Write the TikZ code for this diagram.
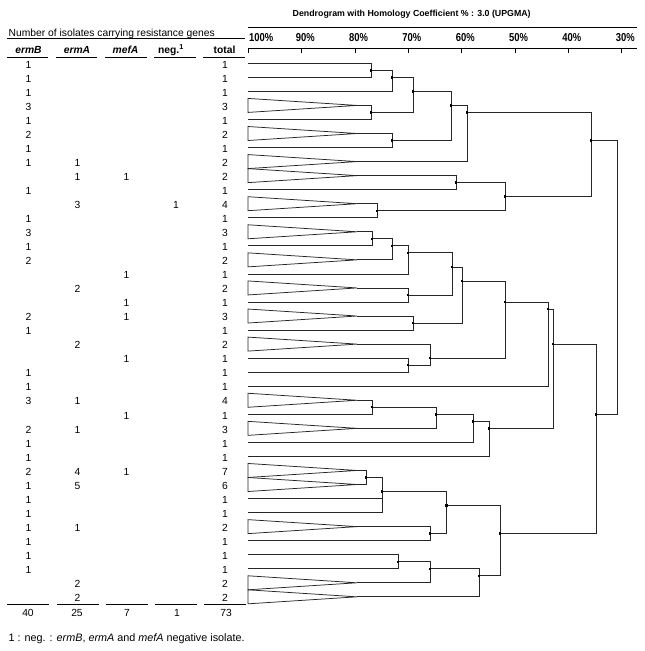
\documentclass[tikz,border=0pt]{standalone}
\usepackage{fontspec}
\setmainfont{Liberation Sans}
\newcommand\rowY[1]{63.3+(#1-1)*14.04}
\begin{document}
\begin{tikzpicture}[x=1pt,y=-1pt,
  br/.style={draw=black!85, line width=0.75pt},
  rulel/.style={draw=black, line width=0.8pt},
  num/.style={font=\fontsize{10.3}{12}\selectfont, anchor=base, inner sep=0pt},
  hdr/.style={font=\fontsize{10.3}{12}\selectfont\bfseries, anchor=base, inner sep=0pt},
  scl/.style={font=\fontsize{11.5}{13}\selectfont\bfseries, anchor=base, inner sep=0pt, xscale=0.82},
]
\useasboundingbox (0,0) rectangle (645,651);

% ---------------- table ----------------
\node[num, anchor=base west] (title) at (8.5,36.7) {Number of isolates carrying resistance genes};
\draw[rulel] (7,38.8) -- (245,38.8);
\node[hdr] (hB) at (28.5,53.3) {\itshape ermB};
\node[hdr] (hA) at (77,53.3) {\itshape ermA};
\node[hdr] (hM) at (125.5,53.3) {\itshape mefA};
\node[hdr] (hN) at (171,53.3) {neg.\textsuperscript{1}};
\node[hdr] (hT) at (224.5,53.3) {total};
\foreach \a/\b in {7/48,56/97,105/147,154/196,203/245}
  \draw[rulel] (\a,57) -- (\b,57);

\foreach \r/\v in {1/1,2/1,3/1,4/3,5/1,6/2,7/1,8/1,10/1,12/1,13/3,14/1,15/2,19/2,20/1,23/1,24/1,25/3,27/2,28/1,29/1,30/2,31/1,32/1,33/1,34/1,35/1,36/1,37/1}
  \node[num] (b\r) at (28.5,{\rowY{\r}+4.7}) {\v};
\foreach \r/\v in {8/1,9/1,11/3,17/2,21/2,25/1,27/1,30/4,31/5,34/1,38/2,39/2}
  \node[num] (a\r) at (77.5,{\rowY{\r}+4.7}) {\v};
\foreach \r/\v in {9/1,16/1,18/1,19/1,22/1,26/1,30/1}
  \node[num] (m\r) at (126.5,{\rowY{\r}+4.7}) {\v};
\node[num] (n11) at (176,{\rowY{11}+4.7}) {1};
\foreach \r/\v in {1/1,2/1,3/1,4/3,5/1,6/2,7/1,8/2,9/2,10/1,11/4,12/1,13/3,14/1,15/2,16/1,17/2,18/1,19/3,20/1,21/2,22/1,23/1,24/1,25/4,26/1,27/3,28/1,29/1,30/7,31/6,32/1,33/1,34/2,35/1,36/1,37/1,38/2,39/2}
  \node[num] (t\r) at (225,{\rowY{\r}+4.7}) {\v};

\foreach \a/\b in {7/49,57/99,106/148,155/197,204/246}
  \draw[rulel] (\a,604) -- (\b,604);
\node[num] (sB) at (28,616.7) {40};
\node[num] (sA) at (77,616.7) {25};
\node[num] (sM) at (127,616.7) {7};
\node[num] (sN) at (177,616.7) {1};
\node[num] (sT) at (226,616.7) {73};

\node[num, font=\fontsize{10.8}{12}\selectfont, anchor=base west] (foot) at (8.5,641) {1 : neg. : \textit{ermB}, \textit{ermA} and \textit{mefA} negative isolate.};

% ---------------- dendrogram header ----------------
\node[font=\fontsize{8.8}{10}\selectfont\bfseries, anchor=base, inner sep=0pt] (dtitle) at (411.7,16.7) {Dendrogram with Homology Coefficient \% : 3.0 (UPGMA)};
\draw[rulel] (248,27.3) -- (637,27.3);
\draw[rulel] (248,48.3) -- (637,48.3);
\foreach \k in {0,...,7}
  \draw[rulel] ({248.3+\k*53.33},48.3) -- ++(0,4.4);
\node[scl, anchor=base west] (p100) at (249,41.7) {100\%};
\foreach \k/\p in {1/90,2/80,3/70,4/60,5/50,6/40,7/30}
  \node[scl] (p\p) at ({248.3+\k*53.33+3.6},41.7) {\p\%};

% ---------------- leaves ----------------
\foreach \i in {4,6,8,9,11,13,15,17,19,21,25,27,30,31,34,38,39} {
  \draw[br] (248,{\rowY{\i}-7}) -- (357,{\rowY{\i}}) -- (248,{\rowY{\i}+7}) -- cycle;
  \coordinate (l\i) at (357,{\rowY{\i}});
}
\foreach \i in {1,2,3,5,7,10,12,14,16,18,20,22,23,24,26,28,29,32,33,35,36,37}
  \coordinate (l\i) at (248,{\rowY{\i}});

% ---------------- internal nodes ----------------
\foreach \n/\x/\m in {A1/371/1.5, A2/392/2, A3/371/4.5, A4/413/3, A5/392/6.5, A6/451/4, A7/467/4.5,
  B1/456/9.5, B2/377/11.5, B3/505/10.5, TOP/591/6.5,
  N1/372/13.5, N2/392/14, N3/408/14.5, N4/408/17.5, N5/452/15.5, N6/413/19.5, N7/462/16.5,
  N8/408/22.5, N9/430/22, N10/505/18, P/548/18.5,
  S1/372/25.5, S2/436/26, S3/473/26.5, S/489/27, Q/553/21,
  U0/366/30.5, U1/382/31.5, V1/430/34.5, V2/446.5/32.5, W1/398/36.5, W2/430/37, W3/479/37.5,
  T/500/34.5, R/596/26, ROOT/617/20}
  \coordinate (\n) at (\x,{\rowY{\m}});

% ---------------- branches ----------------
\foreach \c/\p in {l1/A1,l2/A1,A1/A2,l3/A2,l4/A3,l5/A3,A2/A4,A3/A4,l6/A5,l7/A5,A4/A6,A5/A6,A6/A7,l8/A7,
  l9/B1,l10/B1,l11/B2,l12/B2,B1/B3,B2/B3,A7/TOP,B3/TOP,TOP/ROOT,R/ROOT,
  l13/N1,l14/N1,N1/N2,l15/N2,N2/N3,l16/N3,l17/N4,l18/N4,N3/N5,N4/N5,l19/N6,l20/N6,N5/N7,N6/N7,
  l22/N8,l23/N8,l21/N9,N8/N9,N7/N10,N9/N10,N10/P,l24/P,
  l25/S1,l26/S1,S1/S2,l27/S2,S2/S3,l28/S3,S3/S,l29/S,P/Q,S/Q,
  l30/U0,l31/U0,U0/U1,l32/U1,l33/U1,l34/V1,l35/V1,U1/V2,V1/V2,
  l36/W1,l37/W1,W1/W2,l38/W2,W2/W3,l39/W3,V2/T,W3/T,Q/R,T/R}
  \draw[br] (\c) -| (\p);

\foreach \n in {A1,A2,A3,A4,A5,A6,A7,B1,B2,B3,TOP,N1,N2,N3,N4,N5,N6,N7,N8,N9,N10,P,S1,S2,S3,S,Q,U0,U1,V1,V2,W1,W2,W3,T,R}
  \fill[black] (\n) ++(-1.2,-1.2) rectangle ++(2.4,2.4);
\end{tikzpicture}
\end{document}
